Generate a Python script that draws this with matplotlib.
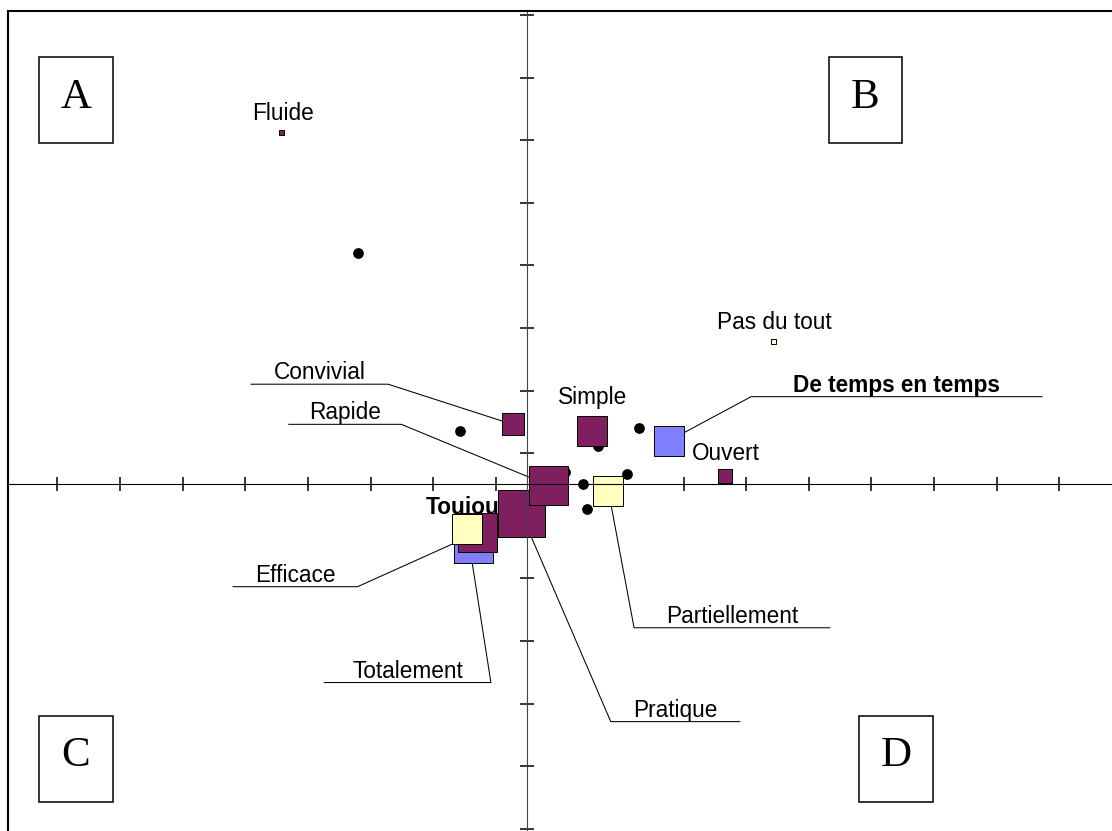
import numpy as np
import matplotlib
matplotlib.use('Agg')
import matplotlib.pyplot as plt
from matplotlib.patches import Rectangle

# adjectives (purple squares)
adjectifs = ['Fluide', 'Simple', 'Ouvert', 'Convivial', 'Efficace', 'Pratique', 'Rapide']
x_adj = [-0.392, 0.104, 0.317, -0.023, -0.079, -0.009, 0.034]
y_adj = [0.562, 0.086, 0.013, 0.096, -0.077, -0.047, -0.001]
poids_adj = [6, 31, 15, 23, 40, 48, 40]

# frequency answers (blue squares)
frequences = ['De temps en temps', 'Toujours']
x_freq = [0.227, -0.086]
y_freq = [0.070, -0.095]
poids_freq = [31, 40]

# degree answers (yellow squares)
degres = ['Pas du tout', 'Partiellement', 'Totalement']
x_deg = [0.394, 0.130, -0.096]
y_deg = [0.228, -0.010, -0.071]
poids_deg = [6, 31, 31]

# individuals (black dots)
x_ind = [-0.270, -0.107, 0.113, 0.179, 0.089, 0.096, 0.160, 0.061]
y_ind = [0.370, 0.085, 0.062, 0.090, 0.001, -0.039, 0.017, 0.020]

quadrants = ['A', 'B', 'C', 'D']

W, H = 1112, 831
fig = plt.figure(figsize=(W / 100, H / 100), dpi=100)

# plot area in image pixels (runs past the right and bottom edges)
left_px, top_px, right_px, bottom_px = 8.3, 10.5, 1130, 850
x0_px, y0_px, unit_px = 527, 484.5, 626

ax = fig.add_axes([left_px / W, 1 - bottom_px / H,
                   (right_px - left_px) / W, (bottom_px - top_px) / H])
ax.set_xlim((left_px - x0_px) / unit_px, (right_px - x0_px) / unit_px)
ax.set_ylim((y0_px - bottom_px) / unit_px, (y0_px - top_px) / unit_px)

# crossing axes through the origin
ax.spines['left'].set_position(('data', 0))
ax.spines['bottom'].set_position(('data', 0))
ax.spines['top'].set_visible(False)
ax.spines['right'].set_visible(False)
ax.spines['left'].set_color('#444444')
ax.spines['left'].set_linewidth(0.8)
ax.spines['bottom'].set_linewidth(0.8)
ax.set_xticks(np.round(np.arange(-0.75, 0.9, 0.1), 2))
ax.set_yticks(np.round(np.arange(-0.55, 0.76, 0.1), 2))
ax.tick_params(labelbottom=False, labelleft=False, direction='inout',
               length=9.5, width=1.1, color='black')
ax.add_patch(Rectangle((0, 0), 1, 1, transform=ax.transAxes, fill=False,
                       lw=1.5, color='black', clip_on=False, zorder=3))

VIOLET, BLEU, JAUNE = '#7F1F5F', '#8080FF', '#FFFFC0'

def taille(p):
    return [((v - 1) * 0.72) ** 2 for v in p]

ax.scatter(x_ind, y_ind, s=45, color='black', zorder=1.5)
ax.scatter(x_freq, y_freq, s=taille(poids_freq), marker='s', color=BLEU,
           edgecolor='black', linewidth=0.7, zorder=2)
ax.scatter(x_adj, y_adj, s=taille(poids_adj), marker='s', color=VIOLET,
           edgecolor='black', linewidth=0.7, zorder=2)
ax.scatter(x_deg, y_deg, s=taille(poids_deg), marker='s', color=JAUNE,
           edgecolor='black', linewidth=0.7, zorder=2)

coords = {}
for noms, xs, ys in [(adjectifs, x_adj, y_adj), (frequences, x_freq, y_freq),
                     (degres, x_deg, y_deg)]:
    for n, x, y in zip(noms, xs, ys):
        coords[n] = (x, y)

def decale(x, y, dx, dy):
    # shift a data point by pixels (dy downward, like the image)
    px = ax.transData.transform((x, y))
    return ax.transData.inverted().transform((px[0] + dx, px[1] - dy))

police = 'Liberation Sans'
gras = ['De temps en temps', 'Toujours']

# labels with leader lines: elbow dx, elbow dy, far end dx (pixels)
renvois = {
    'Convivial': (-124.5, -40.2, -262),
    'Rapide': (-147, -60.8, -260),
    'Efficace': (-120, 54, -245),
    'Totalement': (24, 153.6, -143),
    'Partiellement': (25.7, 137, 222),
    'Pratique': (89.4, 207.7, 219),
    'De temps en temps': (82, -44, 373.5),
}
for nom, (dx, dy, dx2) in renvois.items():
    x, y = coords[nom]
    e = decale(x, y, dx, dy)
    f = decale(x, y, dx2, dy)
    ax.plot([x, e[0], f[0]], [y, e[1], f[1]], color='black', lw=0.75,
            zorder=1.8, solid_capstyle='butt')
    t = decale(x, y, (dx + dx2) / 2, dy - 5)
    ax.text(t[0], t[1], nom, ha='center', va='baseline', fontsize=16.3,
            family=police, fontweight='bold' if nom in gras else 'normal',
            zorder=1.7)

# labels placed above their square
dessus = {'Fluide': (1, -12.3), 'Simple': (0.7, -26.7), 'Ouvert': (0, -16.5),
          'Pas du tout': (1, -12.4), 'Toujours': (0, -30)}
for nom, (dx, dy) in dessus.items():
    x, y = coords[nom]
    t = decale(x, y, dx, dy)
    ax.text(t[0], t[1], nom, ha='center', va='baseline', fontsize=16.3,
            family=police, fontweight='bold' if nom in gras else 'normal',
            zorder=1.7)

# quadrant boxes (image pixels: left, top)
cadres = [(39, 57.3), (828.5, 57.3), (39, 715.7), (859, 715.7)]
for lettre, (bx, by) in zip(quadrants, cadres):
    bw, bh = 73.7, 86
    fig.add_artist(Rectangle((bx / W, 1 - (by + bh) / H), bw / W, bh / H,
                             transform=fig.transFigure, fill=False,
                             lw=1.1, color='black'))
    fig.text((bx + bw / 2) / W, 1 - (by + 50.5) / H, lettre, ha='center',
             va='baseline', fontsize=31, family='Liberation Serif')

fig.savefig('out.png', dpi=100)
